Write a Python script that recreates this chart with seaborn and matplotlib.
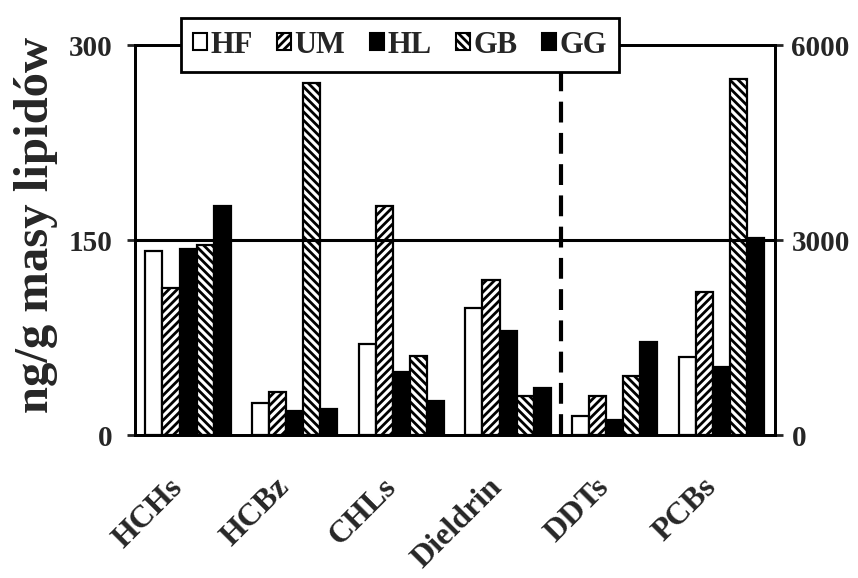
import matplotlib
matplotlib.use("Agg")
import matplotlib.pyplot as plt
import matplotlib.transforms as mtransforms
from matplotlib.patches import Patch
import seaborn as sns
import pandas as pd
import numpy as np

categories = ["HCHs", "HCBz", "CHLs", "Dieldrin", "DDTs", "PCBs"]
left_categories = ["HCHs", "HCBz", "CHLs", "Dieldrin"]
right_categories = ["DDTs", "PCBs"]
series = ["HF", "UM", "HL", "GB", "GG"]

# values: first four on left axis (0-300), last two on right axis (0-6000)
HF = [142, 25, 70, 98, 300, 1200]
UM = [113, 33, 176, 119, 600, 2200]
HL = [143, 19, 49, 80, 230, 1045]
GB = [146, 271, 61, 30, 910, 5480]
GG = [176, 20, 26, 36, 1435, 3030]

left_ticks = [0, 150, 300]
right_ticks = [0, 3000, 6000]
ylabel = "ng/g masy lipidów"

sns.set_theme(style="white")
plt.rcParams["font.family"] = ["Liberation Serif", "DejaVu Serif"]
plt.rcParams["font.weight"] = "bold"
plt.rcParams["hatch.linewidth"] = 2.0
plt.rcParams["hatch.color"] = "black"

values = {"HF": HF, "UM": UM, "HL": HL, "GB": GB, "GG": GG}
rows = []
for s in series:
    for c, v in zip(categories, values[s]):
        rows.append({"cat": c, "series": s, "val": v})
df = pd.DataFrame(rows)
df_left = df[df["cat"].isin(left_categories)]
df_right = df[df["cat"].isin(right_categories)]

face = {"HF": "white", "UM": "white", "HL": "black", "GB": "white", "GG": "black"}
hatches = {"HF": "", "UM": "////", "HL": "", "GB": "\\\\\\\\", "GG": ""}

fig = plt.figure(figsize=(8.58, 5.78), dpi=100)
ax = fig.add_axes([0.157, 0.247, 0.746, 0.675])
ax2 = ax.twinx()

for a, d in ((ax, df_left), (ax2, df_right)):
    sns.barplot(data=d, x="cat", y="val", hue="series", order=categories,
                hue_order=series, palette=face, saturation=1, width=0.8,
                edgecolor="black", linewidth=1.6, legend=False, ax=a)
    for cont, s in zip(a.containers, series):
        for bar in cont:
            bar.set_hatch(hatches[s])

ax.set_ylim(0, 300)
ax2.set_ylim(0, 6000)
ax.set_xlim(-0.5, 5.5)

ax2.axhline(3000, color="black", lw=2.2, zorder=5)
ax2.axvline(3.5, ymin=0, ymax=1, color="black", lw=3, ls=(0, (5, 2.5)), zorder=5)

for a in (ax, ax2):
    for sp in a.spines.values():
        sp.set_linewidth(2)
        sp.set_color("black")
    a.set_ylabel("")
    a.set_xlabel("")

ax.set_yticks(left_ticks)
ax.set_yticklabels([str(t) for t in left_ticks], fontsize=21, fontweight="bold")
ax2.set_yticks(right_ticks)
ax2.set_yticklabels([str(t) for t in right_ticks], fontsize=21, fontweight="bold")
ax.tick_params(axis="y", direction="inout", length=12, width=2, pad=10)
ax2.tick_params(axis="y", direction="inout", length=12, width=2, pad=6)

ax.set_xticks(range(len(categories)))
ax.set_xticklabels(categories, rotation=45, ha="right", rotation_mode="anchor",
                   fontsize=23, fontweight="bold")
ax.tick_params(axis="x", which="major", length=0, pad=27)
shift = mtransforms.ScaledTranslation(-0.2, 0, fig.dpi_scale_trans)
for lab in ax.get_xticklabels():
    lab.set_transform(lab.get_transform() + shift)
ax.set_xticks(np.arange(-0.5, len(categories), 1.0), minor=True)
ax.tick_params(axis="x", which="minor", direction="out", length=7, width=1.5)

ax.set_ylabel(ylabel, fontsize=35, fontweight="bold")
ax.yaxis.set_label_coords(-0.12, 0.538)

handles = [Patch(facecolor=face[s], edgecolor="black", hatch=hatches[s], lw=1.5, label=s)
           for s in series]
leg = fig.legend(handles=handles, loc="center", bbox_to_anchor=(0.466, 0.922), ncol=5,
                 frameon=True, fancybox=False, edgecolor="black", framealpha=1,
                 prop={"family": "Liberation Serif", "weight": "bold", "size": 22},
                 handlelength=0.45, handleheight=0.45, handletextpad=0.12,
                 columnspacing=0.8, borderpad=0.4)
leg.get_frame().set_linewidth(2)

fig.savefig("out.png", dpi=100)
